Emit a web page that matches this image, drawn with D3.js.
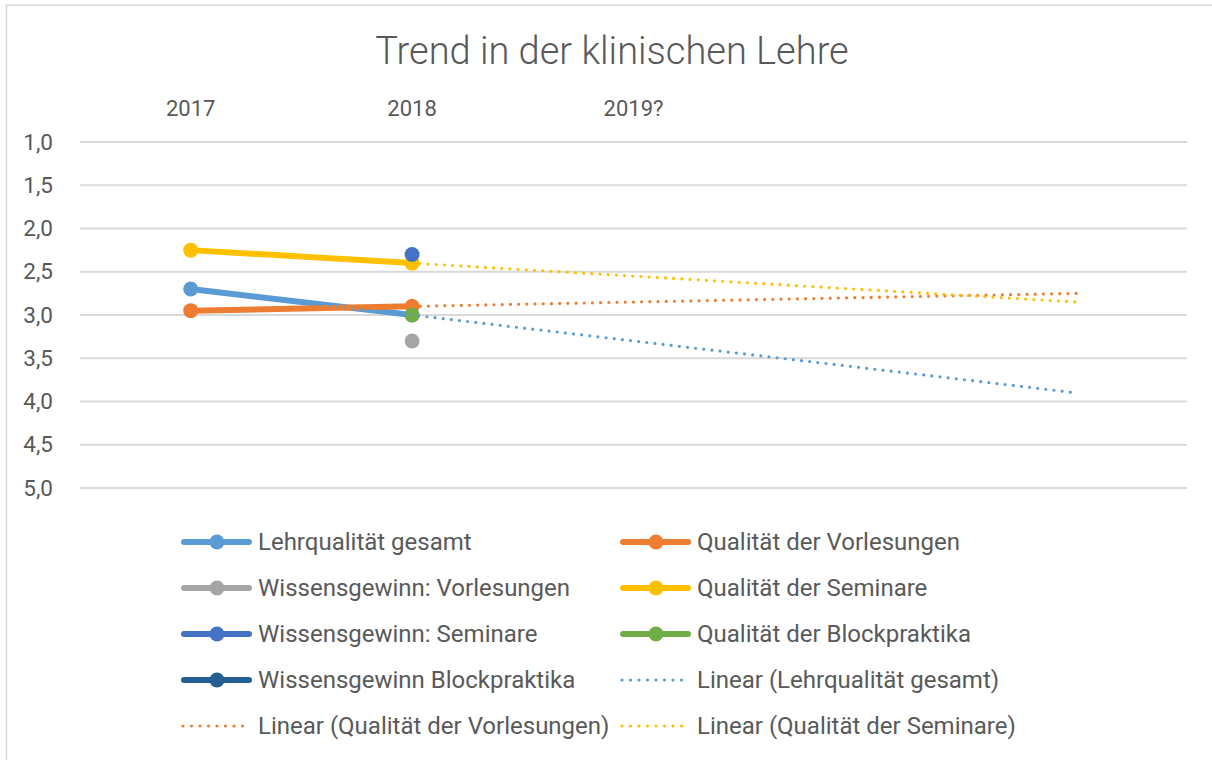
<!DOCTYPE html>
<html>
<head>
<meta charset="utf-8">
<script src="https://cdn.jsdelivr.net/npm/d3@7"></script>
<style>
  html, body { margin: 0; padding: 0; background: #fff; }
  svg { display: block; font-family: Roboto, "DejaVu Sans", sans-serif; }
</style>
</head>
<body>
<svg id="chart" width="1212" height="760"></svg>
<script>
// ---------- data ----------
const categories = ["2017", "2018", "2019?", "", ""];
const yTicks = [1.0, 1.5, 2.0, 2.5, 3.0, 3.5, 4.0, 4.5, 5.0];

const lehrqualitaetGesamt      = [2.70, 3.00, null, null, null];
const qualitaetVorlesungen     = [2.95, 2.90, null, null, null];
const wissensgewinnVorlesungen = [null, 3.30, null, null, null];
const qualitaetSeminare        = [2.25, 2.40, null, null, null];
const wissensgewinnSeminare    = [null, 2.30, null, null, null];
const qualitaetBlockpraktika   = [null, 3.00, null, null, null];
const wissensgewinnBlockpraktika = [null, null, null, null, null];

const seriesNames = [
  "Lehrqualität gesamt", "Qualität der Vorlesungen", "Wissensgewinn: Vorlesungen",
  "Qualität der Seminare", "Wissensgewinn: Seminare", "Qualität der Blockpraktika",
  "Wissensgewinn Blockpraktika"
];
const seriesColors = ["#5B9BD5", "#ED7D31", "#A5A5A5", "#FFC000", "#4472C4", "#70AD47", "#255E91"];
const seriesValues = [lehrqualitaetGesamt, qualitaetVorlesungen, wissensgewinnVorlesungen,
  qualitaetSeminare, wissensgewinnSeminare, qualitaetBlockpraktika, wissensgewinnBlockpraktika];
// trendlines (linear, forecast to last category) for these series indices
const trendSeries = [0, 1, 3];

// ---------- layout ----------
const svg = d3.select("#chart");
const plot = { left: 80, right: 1187, top: 142, bottom: 488 };
const textColor = "#595959";
const gridColor = "#D9D9D9";

// outer chart border
svg.append("rect").attr("x", 6.5).attr("y", 5).attr("width", 1220).attr("height", 780)
  .attr("fill", "#fff").attr("stroke", gridColor).attr("stroke-width", 1.6);

// title
svg.append("text").attr("x", 612).attr("y", 64).attr("text-anchor", "middle")
  .attr("font-size", 38).attr("fill", textColor).attr("font-weight", 300)
  .text("Trend in der klinischen Lehre");

const x = d3.scaleBand().domain(d3.range(categories.length)).range([plot.left, plot.right]);
const cx = i => x(i) + x.bandwidth() / 2;
const y = d3.scaleLinear().domain([1, 5]).range([plot.top, plot.bottom]);

// gridlines
svg.append("g").selectAll("line").data(yTicks).join("line")
  .attr("x1", plot.left).attr("x2", plot.right)
  .attr("y1", d => y(d)).attr("y2", d => y(d))
  .attr("stroke", gridColor).attr("stroke-width", 2);

// y axis
const yAxis = svg.append("g").attr("transform", `translate(${plot.left},0)`)
  .call(d3.axisLeft(y).tickValues(yTicks).tickSize(0).tickPadding(27)
    .tickFormat(d => d3.format(".1f")(d).replace(".", ",")));
yAxis.select(".domain").remove();
yAxis.selectAll("text").attr("font-size", 22.5).attr("fill", textColor)
  .attr("font-family", "Roboto, sans-serif");

// x axis (top)
const xAxis = svg.append("g").attr("transform", `translate(0,116)`)
  .call(d3.axisTop(x).tickSize(0).tickPadding(0).tickFormat(i => categories[i]));
xAxis.select(".domain").remove();
xAxis.selectAll("text").attr("font-size", 22).attr("fill", textColor)
  .attr("font-family", "Roboto, sans-serif");

// series lines
const line = d3.line().defined(d => d.v != null).x(d => cx(d.i)).y(d => y(d.v));
seriesValues.forEach((vals, s) => {
  const pts = vals.map((v, i) => ({ i, v }));
  svg.append("path").datum(pts).attr("d", line).attr("fill", "none")
    .attr("stroke", seriesColors[s]).attr("stroke-width", 6).attr("stroke-linecap", "round");
});
// markers
seriesValues.forEach((vals, s) => {
  svg.append("g").selectAll("circle")
    .data(vals.map((v, i) => ({ i, v })).filter(d => d.v != null)).join("circle")
    .attr("cx", d => cx(d.i)).attr("cy", d => y(d.v)).attr("r", 7.5)
    .attr("fill", seriesColors[s]);
});

// trendlines (least squares over known points, extended to last category)
function regression(vals) {
  const pts = vals.map((v, i) => [i, v]).filter(p => p[1] != null);
  const mx = d3.mean(pts, p => p[0]), my = d3.mean(pts, p => p[1]);
  const sxy = d3.sum(pts, p => (p[0] - mx) * (p[1] - my));
  const sxx = d3.sum(pts, p => (p[0] - mx) ** 2);
  const b = sxy / sxx, a = my - b * mx;
  const first = d3.min(pts, p => p[0]);
  return [first, categories.length - 1].map(i => ({ i, v: a + b * i }));
}
trendSeries.forEach(s => {
  const pts = regression(seriesValues[s]);
  svg.append("path").datum(pts).attr("d", d3.line().x(d => cx(d.i)).y(d => y(d.v)))
    .attr("fill", "none").attr("stroke", seriesColors[s]).attr("stroke-width", 3.2)
    .attr("stroke-linecap", "round").attr("stroke-dasharray", "0 8.2");
});

// legend
const legendItems = seriesNames.map((name, s) => ({ name, color: seriesColors[s], trend: false }))
  .concat(trendSeries.map(s => ({ name: `Linear (${seriesNames[s]})`, color: seriesColors[s], trend: true })));
const legendCols = [181, 620];
const legendRow0 = 542, legendRowStep = 46;
const lg = svg.append("g").selectAll("g").data(legendItems).join("g")
  .attr("transform", (d, k) => `translate(${legendCols[k % 2]},${legendRow0 + Math.floor(k / 2) * legendRowStep})`);
lg.each(function (d) {
  const g = d3.select(this);
  if (d.trend) {
    g.append("line").attr("x1", 2).attr("x2", 70).attr("y1", 0).attr("y2", 0)
      .attr("stroke", d.color).attr("stroke-width", 3.2).attr("stroke-linecap", "round")
      .attr("stroke-dasharray", "0 8.5");
  } else {
    g.append("line").attr("x1", 3).attr("x2", 68).attr("y1", 0).attr("y2", 0)
      .attr("stroke", d.color).attr("stroke-width", 6).attr("stroke-linecap", "round");
    g.append("circle").attr("cx", 36).attr("cy", 0).attr("r", 7.5).attr("fill", d.color);
  }
  g.append("text").attr("x", 77).attr("y", 0).attr("dy", "0.35em")
    .attr("font-size", 24).attr("fill", textColor).text(d.name);
});
</script>
</body>
</html>
